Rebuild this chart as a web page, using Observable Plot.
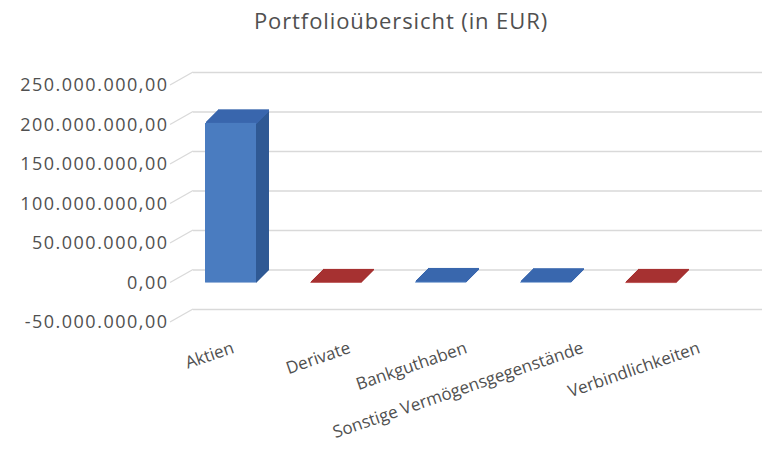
<!DOCTYPE html>
<html><head><meta charset="utf-8">
<script src="https://cdn.jsdelivr.net/npm/d3@7"></script>
<script src="https://cdn.jsdelivr.net/npm/@observablehq/plot@0.6"></script>
<style>
body{margin:0;background:#fff;font-family:"Open Sans",sans-serif;}
#title{height:40px;line-height:40px;text-align:center;padding-left:40px;font-size:22px;letter-spacing:0.9px;color:#505050;}
svg{display:block}
</style></head>
<body>
<div id="title">Portfolioübersicht (in EUR)</div>
<div id="chart"></div>
<script>
const categories = ["Aktien","Derivate","Bankguthaben","Sonstige Vermögensgegenstände","Verbindlichkeiten"];
const values = [202000000, -600000, 1200000, 900000, -700000];
const yTicks = [-50000000, 0, 50000000, 100000000, 150000000, 200000000, 250000000];

const data = categories.map((c, i) => ({category: c, value: values[i]}));
const de = d3.formatLocale({decimal: ",", thousands: ".", grouping: [3], currency: ["", " €"], minus: "-"});
const fmt = de.format(",.2f");

const depth = 13;
const offsets = d3.range(depth, 0, -1);
const topColor = d => d.value < 0 ? "#a63131" : "#3a67ae";
const sideColor = d => d.value < 0 ? "#8a2828" : "#2f5994";
const frontColor = d => d.value < 0 ? "#b83a3a" : "#4a7cc0";

// category labels: Excel's 3D perspective spreads them slightly wider than the bars
const labelMarks = data.map((d, i) => Plot.text([d], {
  x: "category", text: "category", frameAnchor: "bottom",
  rotate: -19, textAnchor: "end", lineAnchor: "bottom",
  dx: 4 + 11.5 * i, dy: 30,
  fontSize: 17, fill: "#505050", style: "letter-spacing:0.6px"
}));

const marks = [
  Plot.ruleY(yTicks, {stroke: "#d9d9d9", strokeWidth: 1.3, dx: 8, dy: -depth, insetRight: -80}),
  ...offsets.map(o => Plot.barY(data, {x: "category", y: "value", fill: topColor, dx: o, dy: -o, insetTop: -0.6, insetBottom: -0.6})),
  ...offsets.map(o => Plot.barY(data, {x: "category", y: "value", fill: sideColor, dx: o, dy: -o + 1, insetLeft: 50, insetTop: 1})),
  Plot.barY(data, {x: "category", y: "value", fill: frontColor}),
  ...labelMarks
];

const plot = Plot.plot({
  width: 762,
  height: 421,
  marginTop: 45,
  marginBottom: 139,
  marginLeft: 185,
  marginRight: 67,
  style: {fontFamily: "Open Sans, sans-serif", fontSize: "18px", color: "#505050", background: "#fff", overflow: "visible"},
  x: {domain: categories, paddingInner: 0.515, paddingOuter: 0.18, axis: null},
  y: {domain: [-50000000, 250000000], ticks: yTicks, tickFormat: fmt, label: null, tickSize: 0, tickPadding: 17},
  marks
});

const ys = plot.scale("y");
const svg = d3.select(plot);
svg.selectAll("[aria-label='y-axis tick label'] text, [aria-label='y-axis tick label']").style("letter-spacing", "1.5px");
// slanted floor edges of the back wall, positioned through Plot's own y scale
const g = svg.insert("g", ":first-child").attr("class", "slants");
yTicks.forEach(v => {
  const y = ys.apply(v);
  g.append("line").attr("x1", 170).attr("y1", y).attr("x2", 193).attr("y2", y - depth)
    .attr("stroke", "#d9d9d9").attr("stroke-width", 1.3);
});
document.getElementById("chart").append(plot);
</script>
</body></html>
